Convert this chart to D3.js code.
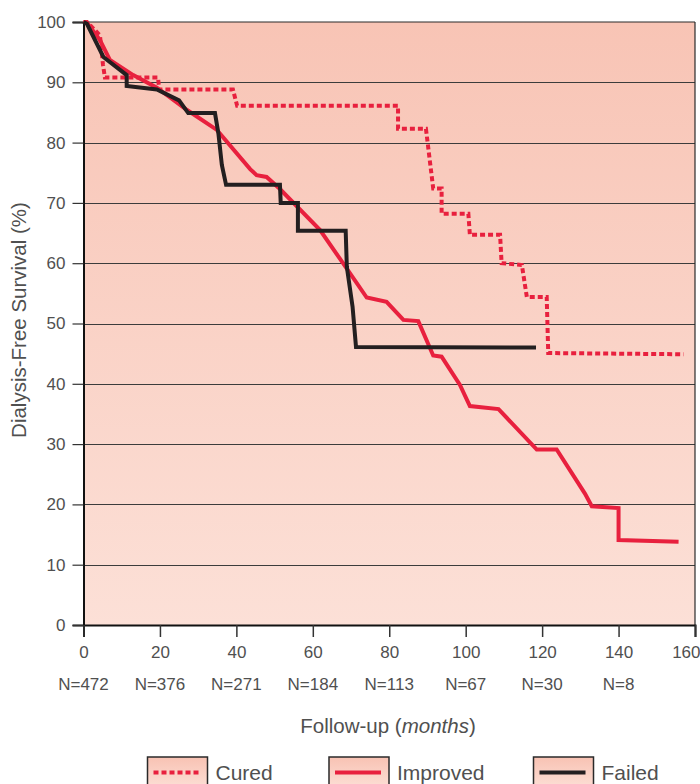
<!DOCTYPE html>
<html>
<head>
<meta charset="utf-8">
<script src="https://cdn.jsdelivr.net/npm/d3@7"></script>
<style>
  html, body { margin: 0; padding: 0; background: #ffffff; }
  svg text { font-family: "Liberation Sans", Arial, sans-serif; font-weight: 400; fill: #505050; }
</style>
</head>
<body>
<svg id="chart" width="700" height="784"></svg>
<script>
// Kaplan–Meier style dialysis-free survival by outcome group (months, %)
const cured = [
  [0, 100], [0.9, 100], [4.3, 97.8], [5.1, 92.9], [5.6, 90.8], [19.5, 90.8],
  [19.8, 88.8], [39.1, 88.8], [40.2, 86.1], [82.3, 86.1], [82.3, 82.3],
  [89.6, 82.3], [91.5, 72.4], [93.7, 72.4], [93.7, 68.2], [100.7, 68.2],
  [101.1, 64.7], [109.0, 64.7], [109.4, 60.0], [114.7, 59.7], [116.0, 54.4],
  [121.2, 54.4], [121.6, 45.1], [157.0, 44.9]
];
const improved = [
  [0, 100], [0.9, 99.9], [4.3, 97.0], [6.9, 93.7], [13.0, 91.2], [19.2, 89.1],
  [27.1, 85.4], [34.9, 82.1], [43.6, 75.6], [45.3, 74.6], [47.9, 74.3],
  [51.4, 72.3], [61.9, 65.5], [67.9, 60.0], [74.1, 54.3], [79.3, 53.6],
  [83.7, 50.6], [87.6, 50.4], [91.5, 44.7], [93.7, 44.5], [98.5, 39.8],
  [101.1, 36.3], [108.6, 35.8], [118.6, 29.1], [123.8, 29.1], [131.2, 21.8],
  [133.0, 19.7], [140.0, 19.4], [140.0, 14.1], [155.7, 13.8]
];
const failed = [
  [0, 100], [0.9, 99.7], [5.2, 94.2], [11.3, 91.2], [11.3, 89.4], [19.2, 88.8],
  [25.0, 87.0], [27.4, 84.9], [34.4, 84.9], [35.3, 81.5], [36.2, 76.3],
  [37.3, 73.0], [51.4, 73.0], [51.6, 70.0], [56.1, 70.0], [56.1, 65.4],
  [68.6, 65.4], [68.9, 59.4], [70.4, 52.8], [71.3, 46.1], [118.4, 46.0]
];
const xTicks = [0, 20, 40, 60, 80, 100, 120, 140, 160];
const yTicks = [0, 10, 20, 30, 40, 50, 60, 70, 80, 90, 100];
const atRisk = ["N=472", "N=376", "N=271", "N=184", "N=113", "N=67", "N=30", "N=8"];
const seriesNames = ["Cured", "Improved", "Failed"];

const RED = "#e8203e", BLACK = "#231f20";
const svg = d3.select("#chart");
const m = { left: 83.5, right: 695, top: 22, bottom: 625 };

const x = d3.scaleLinear().domain([0, 160]).range([m.left, m.right]);
const y = d3.scaleLinear().domain([0, 100]).range([m.bottom, m.top]);

const defs = svg.append("defs");
const grad = defs.append("linearGradient").attr("id", "bg").attr("x1", 0).attr("y1", 0).attr("x2", 0).attr("y2", 1);
grad.append("stop").attr("offset", "0%").attr("stop-color", "#f8c4b5");
grad.append("stop").attr("offset", "100%").attr("stop-color", "#fce0d7");
const lg = defs.append("linearGradient").attr("id", "lg").attr("x1", 0).attr("y1", 0).attr("x2", 0).attr("y2", 1);
lg.append("stop").attr("offset", "0%").attr("stop-color", "#f8c2b3");
lg.append("stop").attr("offset", "100%").attr("stop-color", "#fde2d9");

// plot background
svg.append("rect")
  .attr("x", m.left).attr("y", m.top)
  .attr("width", m.right - m.left).attr("height", m.bottom - m.top)
  .attr("fill", "url(#bg)");

// horizontal grid lines
svg.append("g").selectAll("line").data(yTicks.filter(d => d > 0 && d < 100)).join("line")
  .attr("x1", m.left).attr("x2", m.right)
  .attr("y1", d => Math.round(y(d)) + 0.5).attr("y2", d => Math.round(y(d)) + 0.5)
  .attr("stroke", "#3c3c3c").attr("stroke-width", 1);

// frame
svg.append("line").attr("x1", m.left).attr("x2", m.right).attr("y1", m.top).attr("y2", m.top)
  .attr("stroke", "#2a2a2a").attr("stroke-width", 1.2);
svg.append("line").attr("x1", m.right).attr("x2", m.right).attr("y1", m.top).attr("y2", m.bottom)
  .attr("stroke", "#2a2a2a").attr("stroke-width", 1.2);

// y axis
const yAxis = svg.append("g").attr("transform", `translate(${m.left},0)`)
  .call(d3.axisLeft(y).tickValues(yTicks).tickSize(11).tickPadding(7).tickFormat(d3.format("d")));
yAxis.select(".domain").attr("stroke", "#111").attr("stroke-width", 2);
yAxis.selectAll(".tick line").attr("stroke", "#333").attr("stroke-width", 1.2);
yAxis.selectAll("text").attr("font-size", 17).style("fill", "#505050");

// x axis
const xAxis = svg.append("g").attr("transform", `translate(0,${m.bottom})`)
  .call(d3.axisBottom(x).tickValues(xTicks).tickSize(12).tickPadding(9).tickFormat(d3.format("d")));
xAxis.select(".domain").attr("stroke", "#111").attr("stroke-width", 2);
xAxis.selectAll(".tick line").attr("stroke", "#333").attr("stroke-width", 1.5);
xAxis.selectAll("text").attr("font-size", 17).style("fill", "#505050")
  .attr("text-anchor", d => d === 160 ? "end" : "middle")
  .attr("dx", d => d === 160 ? 5 : 0);

// numbers at risk
svg.append("g").selectAll("text").data(atRisk).join("text")
  .attr("x", (d, i) => x(xTicks[i])).attr("y", 690)
  .attr("text-anchor", "middle").attr("font-size", 17)
  .text(d => d);

// axis titles
const xt = svg.append("text").attr("x", 388).attr("y", 733).attr("text-anchor", "middle").attr("font-size", 20.5);
xt.append("tspan").text("Follow-up (");
xt.append("tspan").attr("font-style", "italic").text("months");
xt.append("tspan").text(")");

svg.append("text")
  .attr("transform", "translate(26,320) rotate(-90)")
  .attr("text-anchor", "middle").attr("font-size", 20.5)
  .text("Dialysis-Free Survival (%)");

// survival curves
const line = d3.line().x(d => x(d[0])).y(d => y(d[1]));
const styles = [
  { data: cured, stroke: RED, dash: "5,3" },
  { data: improved, stroke: RED, dash: null },
  { data: failed, stroke: BLACK, dash: null }
];
svg.append("g").selectAll("path").data(styles).join("path")
  .attr("d", d => line(d.data))
  .attr("fill", "none")
  .attr("stroke", d => d.stroke)
  .attr("stroke-width", 4)
  .attr("stroke-linejoin", "miter")
  .attr("stroke-dasharray", d => d.dash);

// legend
const legendX = [147.5, 329, 533.5];
const legend = svg.append("g").selectAll("g").data(seriesNames).join("g")
  .attr("transform", (d, i) => `translate(${legendX[i]},757)`);
legend.append("rect")
  .attr("width", 60).attr("height", 34)
  .attr("fill", "url(#lg)").attr("stroke", "#2a2a2a").attr("stroke-width", 1.5);
legend.append("line")
  .attr("x1", 6).attr("x2", 52).attr("y1", 15.5).attr("y2", 15.5)
  .attr("stroke", (d, i) => styles[i].stroke)
  .attr("stroke-width", 4)
  .attr("stroke-dasharray", (d, i) => styles[i].dash);
legend.append("text")
  .attr("x", 68).attr("y", 23)
  .attr("font-size", 21)
  .text(d => d);
</script>
</body>
</html>
